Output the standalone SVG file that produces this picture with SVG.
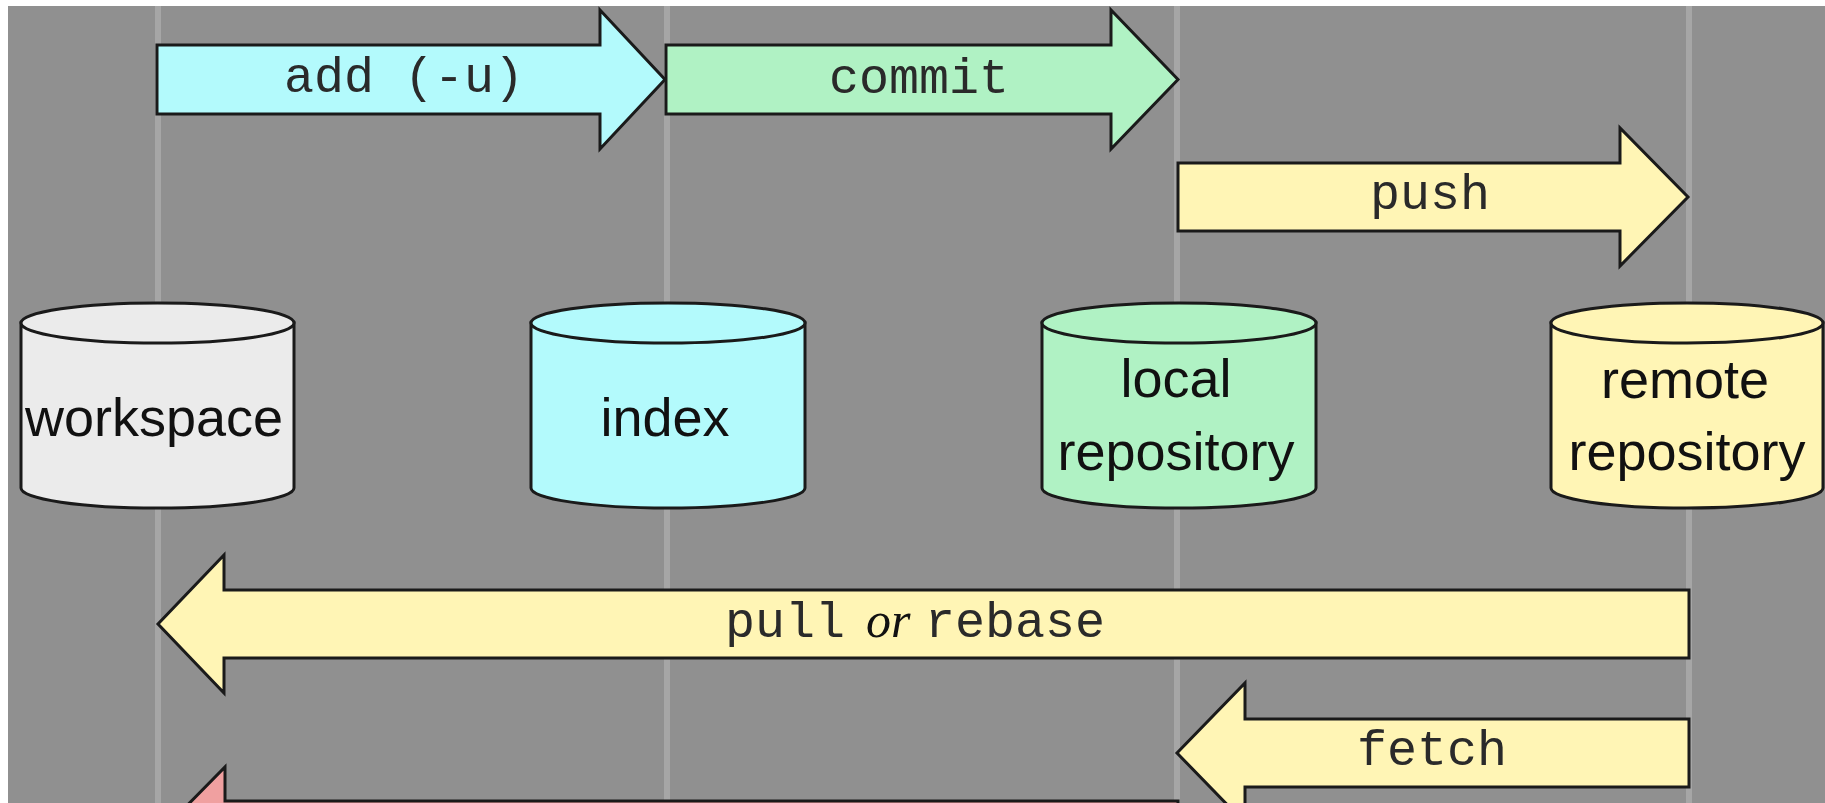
<svg xmlns="http://www.w3.org/2000/svg" width="1825" height="803" viewBox="0 0 1825 803">
  <style>
    .lane { stroke: #a6a6a6; stroke-width: 6; }
    .arrow { stroke: #1a1a1a; stroke-width: 3; stroke-linejoin: miter; }
    .cyl { stroke: #1a1a1a; stroke-width: 3; }
    .cmd { font-family: "Liberation Mono", "Courier New", monospace; font-size: 50px; fill: #2a2a2a; }
    .or { font-family: "Liberation Serif", "Times New Roman", serif; font-style: italic; font-size: 50px; fill: #111; }
    .lbl { font-family: "Liberation Sans", Arial, sans-serif; font-size: 54px; fill: #111; text-anchor: middle; }
    .gray { fill: #ebebeb; }
    .cyan { fill: #b3fafc; }
    .mint { fill: #b0f2c4; }
    .yellow { fill: #fff5b5; }
    .pink { fill: #f0a0a0; }
  </style>
  <rect x="0" y="0" width="1825" height="803" fill="#ffffff"/>
  <rect x="8" y="6" width="1817" height="797" fill="#909090"/>
  <g id="lanes">
    <line class="lane" x1="158" y1="6" x2="158" y2="803"/>
    <line class="lane" x1="667" y1="6" x2="667" y2="803"/>
    <line class="lane" x1="1177" y1="6" x2="1177" y2="803"/>
    <line class="lane" x1="1689" y1="6" x2="1689" y2="803"/>
  </g>
  <g id="workspace">
    <path class="cyl gray" d="M21,323 L21,488 A136.5,20 0 0 0 294,488 L294,323 Z"/>
    <ellipse class="cyl gray" cx="157.5" cy="323" rx="136.5" ry="20"/>
    <text class="lbl" x="154" y="436">workspace</text>
  </g>
  <g id="index">
    <path class="cyl cyan" d="M531,323 L531,488 A137,20 0 0 0 805,488 L805,323 Z"/>
    <ellipse class="cyl cyan" cx="668" cy="323" rx="137" ry="20"/>
    <text class="lbl" x="665" y="436">index</text>
  </g>
  <g id="local-repository">
    <path class="cyl mint" d="M1042,323 L1042,488 A137,20 0 0 0 1316,488 L1316,323 Z"/>
    <ellipse class="cyl mint" cx="1179" cy="323" rx="137" ry="20"/>
    <text class="lbl" x="1176" y="397">local</text>
    <text class="lbl" x="1176" y="470">repository</text>
  </g>
  <g id="remote-repository">
    <path class="cyl yellow" d="M1551,323 L1551,488 A136,20 0 0 0 1823,488 L1823,323 Z"/>
    <ellipse class="cyl yellow" cx="1687" cy="323" rx="136" ry="20"/>
    <text class="lbl" x="1685" y="398">remote</text>
    <text class="lbl" x="1687" y="470">repository</text>
  </g>
  <g id="connectors">
    <g id="add">
      <polygon class="arrow cyan" points="157,45 600,45 600,10 665,79.5 600,149 600,114 157,114"/>
      <text class="cmd" x="404" y="92" text-anchor="middle">add (-u)</text>
    </g>
    <g id="commit">
      <polygon class="arrow mint" points="666,45 1111,45 1111,10 1178,79.5 1111,149 1111,114 666,114"/>
      <text class="cmd" x="919" y="93" text-anchor="middle">commit</text>
    </g>
    <g id="push">
      <polygon class="arrow yellow" points="1178,163 1620,163 1620,128 1688,197 1620,266 1620,231 1178,231"/>
      <text class="cmd" x="1430" y="209" text-anchor="middle">push</text>
    </g>
    <g id="pull-or-rebase">
      <polygon class="arrow yellow" points="1689,590 224,590 224,555 158,624 224,693 224,658 1689,658"/>
      <text y="637"><tspan class="cmd" x="725">pull</tspan><tspan class="or" x="866">or</tspan><tspan class="cmd" x="925">rebase</tspan></text>
    </g>
    <g id="fetch">
      <polygon class="arrow yellow" points="1689,719 1245,719 1245,683 1177,753 1245,823 1245,787 1689,787"/>
      <text class="cmd" x="1432" y="765" text-anchor="middle">fetch</text>
    </g>
    <g id="bottom-arrow">
      <polygon class="arrow pink" points="1178,801 225,801 225,767 158,835 225,903 225,869 1178,869"/>
    </g>
  </g>
</svg>
